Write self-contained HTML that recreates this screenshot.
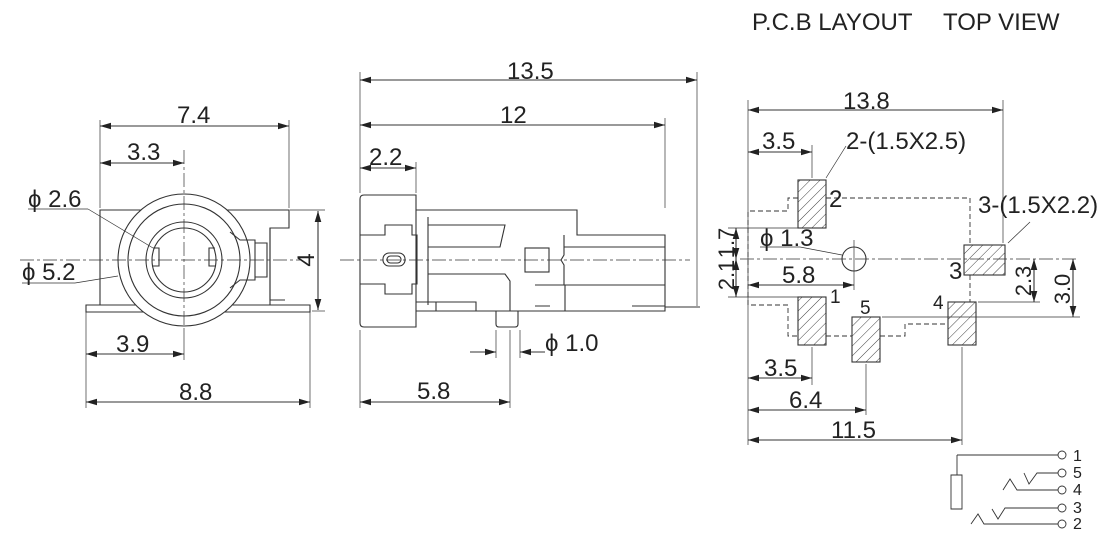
<!DOCTYPE html>
<html><head><style>body{margin:0;background:#fff}svg{display:block}text{font-family:"Liberation Sans",sans-serif;fill:#222}</style></head><body>
<svg width="1120" height="546" viewBox="0 0 1120 546" xmlns="http://www.w3.org/2000/svg">
<defs>
<marker id="a" viewBox="0 0 10 6" refX="10" refY="3" markerWidth="10" markerHeight="6" orient="auto-start-reverse"><path d="M0,0L10,3L0,6z" fill="#222"/></marker>
<pattern id="h" width="7" height="7" patternUnits="userSpaceOnUse" patternTransform="rotate(45)"><line x1="0" y1="0" x2="0" y2="7" stroke="#444" stroke-width="1"/></pattern>
</defs>
<text x="752" y="30" font-size="24">P.C.B LAYOUT</text>
<text x="943" y="30" font-size="24">TOP VIEW</text>

<!-- FRONT VIEW -->
<g stroke="#333" fill="none" stroke-width="1.1">
<path d="M100,210H289V228H270V305H100Z"/>
<path d="M270,228V300H285"/>
<path d="M86,305H310V312H86Z" fill="#fff"/>
<circle cx="184" cy="260" r="66" fill="#fff"/>
<circle cx="184" cy="260" r="56"/>
<circle cx="184" cy="260" r="38"/>
<circle cx="184" cy="260" r="32"/>
<path d="M153,248h6v18h-6M215,248h-6v18h6"/>
<path d="M230,232l10,8h15v40h-15l-10,8M255,243h12v34h-12"/>
<g stroke-width="0.7" stroke-dasharray="14,3,3,3">
<line x1="184" y1="150" x2="184" y2="330"/><line x1="20" y1="260" x2="300" y2="260"/>
</g>
<g stroke-width="0.7">
<line x1="100" y1="120" x2="100" y2="208"/><line x1="289" y1="120" x2="289" y2="208"/>
<line x1="290" y1="210" x2="325" y2="210"/><line x1="312" y1="311" x2="325" y2="311"/>
<line x1="86" y1="312" x2="86" y2="408"/><line x1="310" y1="312" x2="310" y2="408"/>
<line x1="184" y1="330" x2="184" y2="360"/>
<line x1="28" y1="209" x2="88" y2="209"/><line x1="88" y1="209" x2="153" y2="248"/>
<line x1="22" y1="283" x2="75" y2="283"/><line x1="75" y1="283" x2="118" y2="276"/>
</g>
<line x1="100" y1="126" x2="289" y2="126" marker-start="url(#a)" marker-end="url(#a)"/>
<line x1="100" y1="163" x2="184" y2="163" marker-start="url(#a)" marker-end="url(#a)"/>
<line x1="318" y1="211" x2="318" y2="310" marker-start="url(#a)" marker-end="url(#a)"/>
<line x1="86" y1="354" x2="184" y2="354" marker-start="url(#a)" marker-end="url(#a)"/>
<line x1="86" y1="402" x2="310" y2="402" marker-start="url(#a)" marker-end="url(#a)"/>
</g>
<text x="177" y="123" font-size="24">7.4</text>
<text x="127" y="160" font-size="24">3.3</text>
<text x="28" y="207" font-size="24">ϕ 2.6</text>
<text x="22" y="280" font-size="24">ϕ 5.2</text>
<text x="116" y="352" font-size="24">3.9</text>
<text x="179" y="400" font-size="24">8.8</text>
<text transform="translate(314,260) rotate(-90)" font-size="24" text-anchor="middle">4</text>

<!-- SIDE VIEW -->
<g stroke="#333" fill="none" stroke-width="1.1">
<path d="M364,195H416V327H364Q360,327 360,323V199Q360,195 364,195Z"/>
<path d="M416,210H577V235H665V311H416"/>
<path d="M360,235h25v-10h27v10h5v49h-5v10h-27v-10h-25"/>
<rect x="383" y="253" width="22" height="13" rx="6"/>
<rect x="387" y="256" width="14" height="7" rx="3.5"/>
<path d="M428,225H505L500,247H428M428,274H505L510,281V311"/>
<path d="M428,217V305"/>
<rect x="525" y="248" width="24" height="24"/>
<path d="M564,235v20l-3,5l3,5v20h101M564,247H665M565,286V311M535,285h30v26"/>
<path d="M416,302h60v9M436,302v9M535,306h15M632,306h33"/>
<path d="M496,311v13q0,3 3,3h16q3,0 3,-3v-13"/>
<line x1="665" y1="307" x2="700" y2="307"/>
<g stroke-width="0.7" stroke-dasharray="14,3,3,3"><line x1="340" y1="260" x2="690" y2="260"/></g>
<g stroke-width="0.7">
<line x1="360" y1="72" x2="360" y2="193"/><line x1="697" y1="72" x2="697" y2="306"/>
<line x1="665" y1="118" x2="665" y2="208"/><line x1="416" y1="162" x2="416" y2="193"/>
<line x1="360" y1="330" x2="360" y2="408"/><line x1="510" y1="330" x2="510" y2="408"/>
<line x1="496" y1="330" x2="496" y2="358"/><line x1="520" y1="330" x2="520" y2="358"/>
</g>
<line x1="360" y1="80" x2="697" y2="80" marker-start="url(#a)" marker-end="url(#a)"/>
<line x1="360" y1="125" x2="665" y2="125" marker-start="url(#a)" marker-end="url(#a)"/>
<line x1="360" y1="168" x2="416" y2="168" marker-start="url(#a)" marker-end="url(#a)"/>
<line x1="470" y1="352" x2="496" y2="352" marker-end="url(#a)"/>
<line x1="545" y1="352" x2="520" y2="352" marker-end="url(#a)"/>
<line x1="360" y1="402" x2="510" y2="402" marker-start="url(#a)" marker-end="url(#a)"/>
</g>
<text x="507" y="79" font-size="24">13.5</text>
<text x="500" y="123" font-size="24">12</text>
<text x="369" y="165" font-size="24">2.2</text>
<text x="545" y="351" font-size="24">ϕ 1.0</text>
<text x="417" y="399" font-size="24">5.8</text>

<!-- PCB -->
<g stroke="#333" fill="none" stroke-width="1.1">
<g stroke-dasharray="5,3" stroke-width="0.9">
<path d="M798,198H788V211H748V305H788V336H798"/>
<path d="M826,198H970V245"/>
<path d="M970,275V302"/>
<path d="M826,336H852M880,336H905V324H948"/>
<path d="M970,302H976"/>
</g>
<rect x="798" y="180" width="28" height="48" fill="url(#h)"/>
<rect x="798" y="297" width="28" height="48" fill="url(#h)"/>
<rect x="852" y="317" width="28" height="45" fill="url(#h)"/>
<rect x="948" y="302" width="28" height="43" fill="url(#h)"/>
<rect x="964" y="245" width="41" height="30" fill="url(#h)"/>
<circle cx="854" cy="259" r="12"/>
<g stroke-width="0.7">
<line x1="740" y1="259" x2="1078" y2="259" stroke-dasharray="14,3,3,3"/>
<line x1="854" y1="240" x2="854" y2="290"/>
<line x1="748" y1="100" x2="748" y2="445"/><line x1="1003" y1="100" x2="1003" y2="243"/>
<line x1="812" y1="145" x2="812" y2="178"/>
<line x1="812" y1="347" x2="812" y2="385"/><line x1="866" y1="364" x2="866" y2="415"/><line x1="962" y1="347" x2="962" y2="445"/>
<line x1="728" y1="228" x2="798" y2="228"/><line x1="728" y1="297" x2="798" y2="297"/>
<line x1="978" y1="302" x2="1040" y2="302"/><line x1="882" y1="317" x2="1080" y2="317"/>
<line x1="760" y1="247" x2="800" y2="247"/><line x1="800" y1="247" x2="842" y2="255"/>
<line x1="846" y1="146" x2="826" y2="178"/>
<line x1="1030" y1="222" x2="1008" y2="243"/>
</g>
<line x1="748" y1="110" x2="1003" y2="110" marker-start="url(#a)" marker-end="url(#a)"/>
<line x1="748" y1="152" x2="812" y2="152" marker-start="url(#a)" marker-end="url(#a)"/>
<line x1="748" y1="285" x2="854" y2="285" marker-start="url(#a)" marker-end="url(#a)"/>
<line x1="748" y1="378" x2="812" y2="378" marker-start="url(#a)" marker-end="url(#a)"/>
<line x1="748" y1="410" x2="866" y2="410" marker-start="url(#a)" marker-end="url(#a)"/>
<line x1="748" y1="440" x2="962" y2="440" marker-start="url(#a)" marker-end="url(#a)"/>
<line x1="736" y1="228" x2="736" y2="259" marker-start="url(#a)" marker-end="url(#a)"/>
<line x1="736" y1="259" x2="736" y2="297" marker-start="url(#a)" marker-end="url(#a)"/>
<line x1="1034" y1="259" x2="1034" y2="302" marker-start="url(#a)" marker-end="url(#a)"/>
<line x1="1073" y1="259" x2="1073" y2="317" marker-start="url(#a)" marker-end="url(#a)"/>
<g stroke-width="0.9">
<path d="M957,455H1058M957,455V475M951,475h11v34h-11z"/>
<path d="M1024,473L1029,484L1037,473H1058"/>
<path d="M1003,490L1010,479L1017,490H1058"/>
<path d="M992,509L998,519L1005,508H1058"/>
<path d="M971,524L978,514L984,524H1058"/>
<circle cx="1062" cy="455" r="4" fill="#fff"/><circle cx="1062" cy="473" r="4" fill="#fff"/><circle cx="1062" cy="490" r="4" fill="#fff"/><circle cx="1062" cy="508" r="4" fill="#fff"/><circle cx="1062" cy="524" r="4" fill="#fff"/>
</g>
</g>
<text x="843" y="109" font-size="24">13.8</text>
<text x="762" y="149" font-size="24">3.5</text>
<text x="846" y="149" font-size="24">2-(1.5X2.5)</text>
<text x="978" y="213" font-size="24">3-(1.5X2.2)</text>
<text x="829" y="207" font-size="24">2</text>
<text x="760" y="246" font-size="24">ϕ 1.3</text>
<text x="782" y="283" font-size="24">5.8</text>
<text x="949" y="279" font-size="24">3</text>
<text x="830" y="303" font-size="19">1</text>
<text x="860" y="314" font-size="19">5</text>
<text x="933" y="309" font-size="19">4</text>
<text x="764" y="376" font-size="24">3.5</text>
<text x="789" y="408" font-size="24">6.4</text>
<text x="831" y="438" font-size="24">11.5</text>
<text transform="translate(734,243) rotate(-90)" font-size="22" text-anchor="middle">1.7</text>
<text transform="translate(734,275) rotate(-90)" font-size="22" text-anchor="middle">2.1</text>
<text transform="translate(1031,281) rotate(-90)" font-size="22" text-anchor="middle">2.3</text>
<text transform="translate(1070,289) rotate(-90)" font-size="22" text-anchor="middle">3.0</text>
<text x="1073" y="461" font-size="16">1</text>
<text x="1073" y="478" font-size="16">5</text>
<text x="1073" y="495" font-size="16">4</text>
<text x="1073" y="513" font-size="16">3</text>
<text x="1073" y="529" font-size="16">2</text>
</svg>
</body></html>
